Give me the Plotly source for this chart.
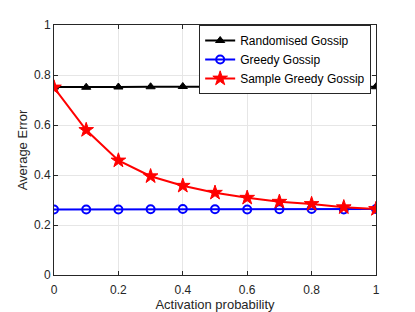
import plotly.graph_objects as go

x_vals = [0, 0.1, 0.2, 0.3, 0.4, 0.5, 0.6, 0.7, 0.8, 0.9, 1.0]
randomised = [0.752, 0.751, 0.752, 0.753, 0.754, 0.754, 0.753, 0.752, 0.754, 0.752, 0.753]
greedy = [0.262, 0.262, 0.262, 0.263, 0.264, 0.263, 0.262, 0.263, 0.264, 0.262, 0.264]
sample_greedy = [0.75, 0.58, 0.458, 0.395, 0.357, 0.329, 0.309, 0.293, 0.284, 0.271, 0.264]

FONT = "Liberation Sans, Arial"
fig = go.Figure()
fig.add_trace(go.Scatter(x=x_vals, y=randomised, name="Randomised Gossip", mode="lines+markers",
                         line=dict(color="black", width=2),
                         marker=dict(symbol="triangle-up", size=8, color="black",
                                     line=dict(color="black", width=1))))
fig.add_trace(go.Scatter(x=x_vals, y=greedy, name="Greedy Gossip", mode="lines+markers",
                         line=dict(color="#0000ff", width=2),
                         marker=dict(symbol="circle-open", size=8, color="#0000ff",
                                     line=dict(color="#0000ff", width=2))))
fig.add_trace(go.Scatter(x=x_vals, y=sample_greedy, name="Sample Greedy Gossip", mode="lines+markers",
                         line=dict(color="#ff0000", width=2),
                         marker=dict(symbol="star", size=11, color="#ff0000",
                                     line=dict(color="#ff0000", width=1))))

axis_common = dict(showline=True, linecolor="#262626", linewidth=1, mirror="ticks",
                   ticks="inside", ticklen=4, tickcolor="#262626",
                   showgrid=True, gridcolor="#e6e6e6", gridwidth=1, zeroline=False,
                   automargin=False,
                   tickfont=dict(family=FONT, size=12, color="#262626"))

fig.update_xaxes(range=[0, 1], tickvals=[0, 0.2, 0.4, 0.6, 0.8, 1],
                 ticktext=["0", "0.2", "0.4", "0.6", "0.8", "1"],
                 ticklabelstandoff=4,
                 title=dict(text="Activation probability", standoff=6,
                            font=dict(family=FONT, size=13, color="#262626")),
                 **axis_common)
fig.update_yaxes(range=[0, 1], tickvals=[0, 0.2, 0.4, 0.6, 0.8, 1],
                 ticktext=["0", "0.2", "0.4", "0.6", "0.8", "1"],
                 title=dict(text="Average Error", standoff=3,
                            font=dict(family=FONT, size=13, color="#262626")),
                 **axis_common)

fig.update_layout(width=415, height=312, margin=dict(l=54, r=39, t=25, b=37),
                  plot_bgcolor="white", paper_bgcolor="white",
                  legend=dict(x=0.985, y=1.0, xanchor="right", yanchor="top",
                              bgcolor="white", bordercolor="#262626", borderwidth=1,
                              font=dict(family=FONT, size=12, color="black"),
                              tracegroupgap=0, itemwidth=30))

fig.write_html("out.html", config={"displayModeBar": False},
               post_script="document.body.style.margin='0';document.body.style.overflow='hidden';")
